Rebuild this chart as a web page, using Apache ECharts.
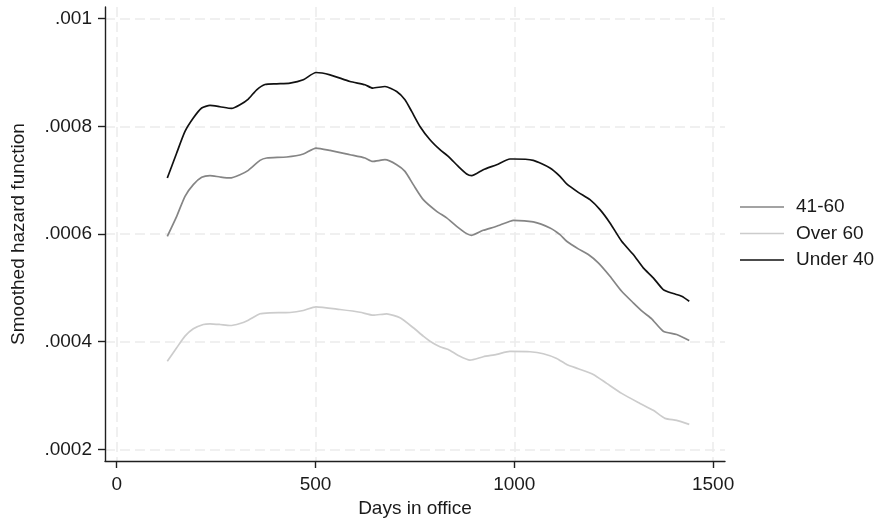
<!DOCTYPE html>
<html>
<head>
<meta charset="utf-8">
<title>Smoothed hazard function by age group</title>
<script src="https://cdn.jsdelivr.net/npm/echarts@6/dist/echarts.min.js"></script>
<style>
  html, body { margin: 0; padding: 0; background: #ffffff; }
  #chart { width: 880px; height: 523px; }
</style>
</head>
<body>
<div id="chart"></div>
<script>
// Smoothed hazard estimates by age group (days in office vs. hazard)
const under40Days = [127.3, 150.9, 171.8, 192.7, 213.8, 234.7, 259.8, 289.2, 310.1, 331.0, 352.1, 373.0, 402.4, 435.9, 469.3, 501.3, 536.5, 586.8, 624.5, 643.9, 674.8, 704.2, 725.1, 741.9, 762.8, 788.0, 813.1, 834.0, 859.2, 880.3, 892.9, 922.0, 955.7, 989.2, 997.5, 1047.8, 1089.9, 1115.0, 1131.8, 1161.0, 1190.4, 1215.6, 1240.7, 1270.1, 1299.3, 1324.4, 1349.6, 1374.7, 1399.9, 1421.0, 1440.1];
const under40Hazard = [0.000704, 0.0007505, 0.0007905, 0.0008154, 0.000834, 0.0008388, 0.0008364, 0.0008332, 0.0008401, 0.0008507, 0.0008679, 0.0008777, 0.000879, 0.0008803, 0.0008865, 0.00090, 0.0008957, 0.0008833, 0.0008772, 0.0008711, 0.000874, 0.0008648, 0.0008494, 0.0008277, 0.0007998, 0.0007751, 0.0007566, 0.0007442, 0.0007256, 0.0007115, 0.0007084, 0.0007195, 0.0007288, 0.0007393, 0.0007393, 0.0007367, 0.0007226, 0.0007071, 0.000693, 0.0006774, 0.0006638, 0.0006453, 0.0006206, 0.0005865, 0.0005618, 0.0005371, 0.0005186, 0.0004968, 0.0004894, 0.0004844, 0.0004751];

const age41to60Days = [127.3, 150.9, 171.8, 192.7, 213.8, 234.7, 259.8, 284.9, 310.1, 331.0, 360.4, 377.3, 427.6, 469.3, 501.3, 536.5, 586.8, 624.5, 643.9, 674.8, 704.2, 725.1, 746.0, 771.1, 804.8, 830.0, 855.1, 880.3, 892.9, 922.0, 955.7, 989.2, 997.5, 1047.8, 1089.9, 1115.0, 1131.8, 1161.0, 1186.2, 1211.3, 1240.7, 1270.1, 1299.3, 1324.4, 1345.5, 1374.7, 1408.4, 1440.1];
const age41to60Hazard = [0.0005957, 0.0006328, 0.00067, 0.0006917, 0.0007052, 0.0007084, 0.0007059, 0.0007041, 0.0007102, 0.0007182, 0.0007367, 0.0007412, 0.000743, 0.0007486, 0.0007597, 0.0007553, 0.0007473, 0.0007412, 0.0007349, 0.000738, 0.0007288, 0.0007163, 0.0006917, 0.0006638, 0.0006421, 0.0006299, 0.0006143, 0.0006007, 0.0005976, 0.0006069, 0.0006143, 0.0006236, 0.0006254, 0.0006224, 0.0006113, 0.0005989, 0.0005865, 0.0005724, 0.0005618, 0.0005464, 0.0005215, 0.0004937, 0.0004722, 0.0004547, 0.0004425, 0.0004195, 0.0004134, 0.0004022];

const over60Days = [127.3, 150.9, 171.8, 192.7, 217.8, 234.7, 259.8, 284.9, 310.1, 331.0, 360.4, 385.6, 435.9, 469.3, 501.3, 561.6, 611.9, 645.4, 679.1, 712.6, 746.0, 771.1, 788.0, 813.1, 834.0, 859.2, 888.6, 922.0, 955.7, 989.2, 1039.5, 1073.0, 1106.6, 1131.8, 1161.0, 1198.7, 1232.4, 1270.1, 1316.2, 1349.6, 1379.1, 1408.4, 1440.1];
const over60Hazard = [0.0003638, 0.0003887, 0.0004102, 0.0004239, 0.0004319, 0.0004332, 0.0004319, 0.00043, 0.0004338, 0.0004399, 0.0004518, 0.0004536, 0.0004542, 0.0004579, 0.0004648, 0.0004597, 0.0004547, 0.0004492, 0.0004518, 0.0004443, 0.0004258, 0.0004102, 0.0004009, 0.0003905, 0.0003855, 0.0003744, 0.0003657, 0.000372, 0.0003763, 0.0003818, 0.0003813, 0.0003776, 0.0003688, 0.0003577, 0.0003497, 0.0003392, 0.0003225, 0.0003039, 0.0002853, 0.0002724, 0.0002575, 0.0002538, 0.0002464];

// Axis ticks and labels
const xTickValues = [0, 500, 1000, 1500];
const xTickLabels = ['0', '500', '1000', '1500'];
const yTickValues = [0.0002, 0.0004, 0.0006, 0.0008, 0.001];
const yTickLabels = ['.0002', '.0004', '.0006', '.0008', '.001'];

const seriesNames = ['41-60', 'Over 60', 'Under 40'];

function pairs(xs, ys) {
  return xs.map((x, i) => [x, ys[i]]);
}

function labelFor(values, labels) {
  return function (v) {
    const i = values.findIndex(t => Math.abs(t - v) < 1e-9 * Math.max(1, Math.abs(t)));
    return i >= 0 ? labels[i] : '';
  };
}

const FONT = '"Liberation Sans", Arial, sans-serif';
const TEXT = '#1a1a1a';
const AXIS = '#1f1f1f';
const GRID = '#ebebeb';
const FS = 19;

const chart = echarts.init(document.getElementById('chart'), null, { renderer: 'canvas' });

chart.setOption({
  animation: false,
  backgroundColor: '#ffffff',
  textStyle: { fontFamily: FONT },
  grid: { left: 105, right: 155, top: 7, bottom: 61, containLabel: false },
  legend: {
    data: seriesNames,
    orient: 'vertical',
    left: 740,
    top: 197,
    icon: 'rect',
    itemWidth: 44,
    itemHeight: 1.6,
    itemGap: 6.5,
    textStyle: { fontFamily: FONT, fontSize: FS, color: TEXT, lineHeight: 20, padding: [0, 0, 0, 7] },
    padding: 0
  },
  xAxis: {
    type: 'value',
    min: -29.4,
    max: 1530,
    name: 'Days in office',
    nameLocation: 'middle',
    nameGap: 38,
    nameTextStyle: { fontFamily: FONT, fontSize: FS, color: TEXT },
    axisLine: { show: true, onZero: false, lineStyle: { color: AXIS, width: 1.4 } },
    axisTick: { show: true, length: 7, customValues: xTickValues, lineStyle: { color: AXIS, width: 1.4 } },
    axisLabel: {
      customValues: xTickValues,
      margin: 14,
      fontFamily: FONT,
      fontSize: FS,
      color: TEXT,
      formatter: labelFor(xTickValues, xTickLabels)
    },
    splitLine: { show: true, lineStyle: { color: GRID, width: 1.5, type: [10, 5] } }
  },
  yAxis: {
    type: 'value',
    min: 0.0001783,
    max: 0.0010217,
    name: 'Smoothed hazard function',
    nameLocation: 'middle',
    nameGap: 77,
    nameTextStyle: { fontFamily: FONT, fontSize: FS, color: TEXT },
    axisLine: { show: true, onZero: false, lineStyle: { color: AXIS, width: 1.4 } },
    axisTick: { show: true, length: 7, customValues: yTickValues, lineStyle: { color: AXIS, width: 1.4 } },
    axisLabel: {
      customValues: yTickValues,
      margin: 13,
      fontFamily: FONT,
      fontSize: FS,
      color: TEXT,
      formatter: labelFor(yTickValues, yTickLabels)
    },
    splitLine: { show: true, lineStyle: { color: GRID, width: 1.5, type: [10, 5] } }
  },
  series: [
    {
      name: '41-60',
      type: 'line',
      data: pairs(age41to60Days, age41to60Hazard),
      symbol: 'none',
      smooth: 0.2,
      color: '#858585',
      lineStyle: { color: '#858585', width: 1.7 },
      z: 3
    },
    {
      name: 'Over 60',
      type: 'line',
      data: pairs(over60Days, over60Hazard),
      symbol: 'none',
      smooth: 0.2,
      color: '#cccccc',
      lineStyle: { color: '#cccccc', width: 1.7 },
      z: 2
    },
    {
      name: 'Under 40',
      type: 'line',
      data: pairs(under40Days, under40Hazard),
      symbol: 'none',
      smooth: 0.2,
      color: '#111111',
      lineStyle: { color: '#111111', width: 1.7 },
      z: 4
    }
  ]
});
</script>
</body>
</html>
